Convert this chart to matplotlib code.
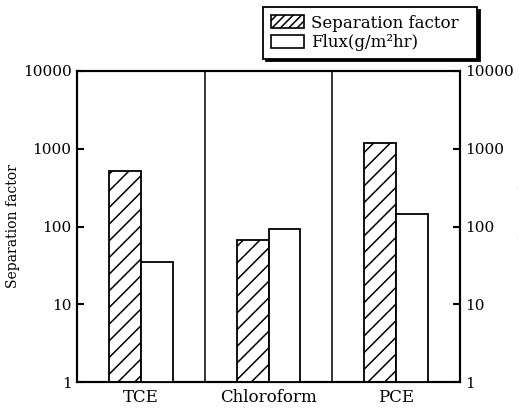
import matplotlib
matplotlib.use("Agg")
import matplotlib.pyplot as plt
from matplotlib.patches import Patch
import numpy as np

categories = ["TCE", "Chloroform", "PCE"]
separation_factor = [510, 67, 1200]
flux = [34, 92, 143]
ytick_values = [1, 10, 100, 1000, 10000]
ytick_labels = ["1", "10", "100", "1000", "10000"]

plt.rcParams['font.family'] = ['DejaVu Serif']
plt.rcParams['hatch.linewidth'] = 1.1

fig = plt.figure(figsize=(5.19, 4.09), dpi=100)
ax = fig.add_axes([77/519, 1-382/409, (460-77)/519, (382-71)/409])
ax2 = ax.twinx()

x = np.arange(len(categories))
w = 0.25
ax.bar(x - w/2, separation_factor, width=w, bottom=1, facecolor='white',
       edgecolor='black', linewidth=1.3, hatch='//', zorder=3)
ax2.bar(x + w/2, flux, width=w, bottom=1, facecolor='white',
        edgecolor='black', linewidth=1.3, zorder=3)

for a in (ax, ax2):
    a.set_yscale('log')
    a.set_ylim(1, 10000)
    a.set_xlim(-0.5, len(categories) - 0.5)
    a.set_yticks(ytick_values)
    a.set_yticklabels(ytick_labels)
    a.yaxis.set_minor_locator(matplotlib.ticker.NullLocator())
    a.tick_params(axis='y', direction='in', length=5, width=1.5, labelsize=11, pad=4)
    for s in a.spines.values():
        s.set_linewidth(1.5)

for xv in x[:-1] + 0.5:
    ax.axvline(xv, color='black', linewidth=1.1, zorder=2)

ax.set_xticks(x)
ax.set_xticklabels(categories, fontsize=12)
ax.tick_params(axis='x', length=0, pad=5)

ax.set_ylabel("Separation factor", fontsize=10, labelpad=2)
ax2.set_ylabel("Flux(g/m²hr)", fontsize=10, labelpad=3)

handles = [Patch(facecolor='white', edgecolor='black', hatch='////', linewidth=1.2),
           Patch(facecolor='white', edgecolor='black', linewidth=1.2)]
leg = fig.legend(handles, ["Separation factor  ", "Flux(g/m²hr)"],
                 loc='upper left', bbox_to_anchor=(263/519, 1-7/409),
                 bbox_transform=fig.transFigure, fontsize=12,
                 frameon=True, fancybox=False, framealpha=1,
                 edgecolor='black', shadow={'color': 'black', 'alpha': 1},
                 borderpad=0.45, labelspacing=0.15, handlelength=2.0,
                 handleheight=0.8, handletextpad=0.45, borderaxespad=0)
leg.get_frame().set_linewidth(1.3)

fig.savefig("out.png", dpi=100)
